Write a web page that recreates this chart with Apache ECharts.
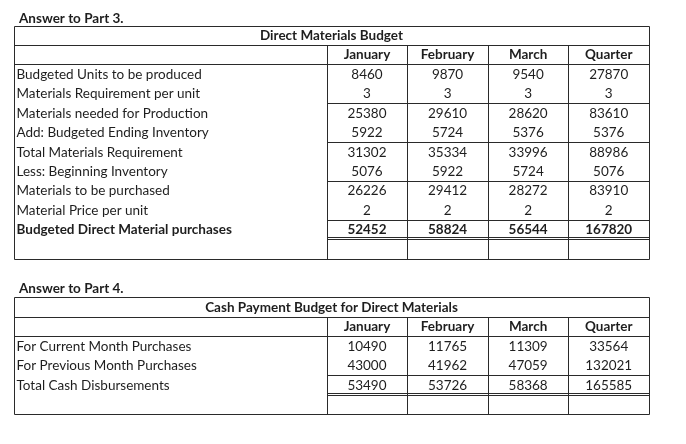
<!DOCTYPE html>
<html><head><meta charset="utf-8">
<script src="https://cdn.jsdelivr.net/npm/echarts@6/dist/echarts.min.js"></script>
<style>html,body{margin:0;padding:0;background:#fff}#c{width:686px;height:444px}</style>
</head><body><div id="c"></div>
<script>
// ---- data ----
const part3Heading = 'Answer to Part 3.';
const part4Heading = 'Answer to Part 4.';
const columns = ['January', 'February', 'March', 'Quarter'];

const budgetTitle = 'Direct Materials Budget';
const budgetRows = [
  'Budgeted Units to be produced',
  'Materials Requirement per unit',
  'Materials needed for Production',
  'Add: Budgeted Ending Inventory',
  'Total Materials Requirement',
  'Less: Beginning Inventory',
  'Materials to be purchased',
  'Material Price per unit',
  'Budgeted Direct Material purchases'
];
const budgetJan = [8460, 3, 25380, 5922, 31302, 5076, 26226, 2, 52452];
const budgetFeb = [9870, 3, 29610, 5724, 35334, 5922, 29412, 2, 58824];
const budgetMar = [9540, 3, 28620, 5376, 33996, 5724, 28272, 2, 56544];
const budgetQtr = [27870, 3, 83610, 5376, 88986, 5076, 83910, 2, 167820];
const budgetBoldRows = [8];
const budgetRuleAfter = [1, 3, 5, 7];   // single rules under these rows (value columns)
const budgetDoubleAfter = [8];          // double rule under this row

const cashTitle = 'Cash Payment Budget for Direct Materials';
const cashRows = [
  'For Current Month Purchases',
  'For Previous Month Purchases',
  'Total Cash Disbursements'
];
const cashJan = [10490, 43000, 53490];
const cashFeb = [11765, 41962, 53726];
const cashMar = [11309, 47059, 58368];
const cashQtr = [33564, 132021, 165585];
const cashBoldRows = [];
const cashRuleAfter = [1];
const cashDoubleAfter = [2];

// ---- build ----
const FONT = 'Lato, "Liberation Sans", sans-serif';
const FS = 13.5;
const TXT = '#1e1e1e';
const LINE = '#2a2a2a';
const LABEL_SPAN = 3.88; // label column width in value-column units

function buildTable(title, rows, cols, bold, ruleAfter, doubleAfter) {
  const nRows = rows.length + 3; // title, header, rows, empty row
  const cells = [];
  cells.push({x0: -LABEL_SPAN, x1: 4, y: 0, text: title, align: 'center', bold: true});
  columns.forEach((c, j) => cells.push({x0: j, x1: j + 1, y: 1, text: c, align: 'center', bold: true}));
  rows.forEach((r, i) => {
    const b = bold.indexOf(i) >= 0;
    cells.push({x0: -LABEL_SPAN, x1: 0, y: i + 2, text: r, align: 'left', bold: b});
    cols.forEach((arr, j) => cells.push({x0: j, x1: j + 1, y: i + 2, text: String(arr[i]), align: 'center', bold: b}));
  });
  const segs = [];
  segs.push({x0: -LABEL_SPAN, y0: 0, x1: 4, y1: 0});
  segs.push({x0: -LABEL_SPAN, y0: nRows, x1: 4, y1: nRows});
  segs.push({x0: -LABEL_SPAN, y0: 0, x1: -LABEL_SPAN, y1: nRows});
  segs.push({x0: 4, y0: 0, x1: 4, y1: nRows});
  segs.push({x0: -LABEL_SPAN, y0: 1, x1: 4, y1: 1});
  segs.push({x0: -LABEL_SPAN, y0: 2, x1: 4, y1: 2});
  for (let j = 0; j < 4; j++) segs.push({x0: j, y0: 1, x1: j, y1: nRows});
  ruleAfter.forEach(i => segs.push({x0: 0, y0: i + 3, x1: 4, y1: i + 3}));
  doubleAfter.forEach(i => segs.push({x0: 0, y0: i + 3, x1: 4, y1: i + 3, dbl: true}));
  return {cells, segs, nRows};
}

const t1 = buildTable(budgetTitle, budgetRows, [budgetJan, budgetFeb, budgetMar, budgetQtr], budgetBoldRows, budgetRuleAfter, budgetDoubleAfter);
const t2 = buildTable(cashTitle, cashRows, [cashJan, cashFeb, cashMar, cashQtr], cashBoldRows, cashRuleAfter, cashDoubleAfter);

function cellSeries(t, gi) {
  return {
    type: 'custom', xAxisIndex: gi, yAxisIndex: gi, silent: true, clip: false,
    data: t.cells.map(c => [c.x0, c.y, c.x1, c.y + 1]),
    renderItem: function (params, api) {
      const c = t.cells[params.dataIndex];
      const a = api.coord([c.x0, c.y]);
      const b = api.coord([c.x1, c.y + 1]);
      const cy = (a[1] + b[1]) / 2 + 0.5;
      const x = c.align === 'left' ? a[0] + 2.5 : (a[0] + b[0]) / 2;
      return {
        type: 'text',
        style: {
          text: c.text, x: x, y: cy, align: c.align, verticalAlign: 'middle',
          font: (c.bold ? 'bold ' : '') + FS + 'px ' + FONT, fill: TXT
        }
      };
    }
  };
}
function lineSeries(t, gi) {
  return {
    type: 'custom', xAxisIndex: gi, yAxisIndex: gi, silent: true, clip: false,
    data: t.segs.map(s => [s.x0, s.y0, s.x1, s.y1]),
    renderItem: function (params, api) {
      const s = t.segs[params.dataIndex];
      const a = api.coord([s.x0, s.y0]);
      const b = api.coord([s.x1, s.y1]);
      const r = v => Math.round(v) + 0.5;
      const st = {stroke: LINE, lineWidth: 1};
      if (s.dbl) {
        const y = Math.round(a[1]);
        return {type: 'group', children: [
          {type: 'line', shape: {x1: r(a[0]), y1: y - 1.5, x2: r(b[0]), y2: y - 1.5}, style: st},
          {type: 'line', shape: {x1: r(a[0]), y1: y + 0.5, x2: r(b[0]), y2: y + 0.5}, style: st}
        ]};
      }
      return {type: 'line', shape: {x1: r(a[0]), y1: r(a[1]), x2: r(b[0]), y2: r(b[1])}, style: st};
    }
  };
}

const chart = echarts.init(document.getElementById('c'), null, {renderer: 'canvas'});
chart.setOption({
  animation: false,
  backgroundColor: '#fff',
  title: [
    {text: part3Heading, left: 14, top: 7, textStyle: {fontFamily: FONT, fontSize: FS, fontWeight: 'bold', color: TXT}},
    {text: part4Heading, left: 14, top: 277, textStyle: {fontFamily: FONT, fontSize: FS, fontWeight: 'bold', color: TXT}}
  ],
  grid: [
    {left: 14, top: 25.5, width: 635, height: 233},
    {left: 14, top: 297, width: 635, height: 117}
  ],
  xAxis: [
    {type: 'value', gridIndex: 0, min: -LABEL_SPAN, max: 4, show: false},
    {type: 'value', gridIndex: 1, min: -LABEL_SPAN, max: 4, show: false}
  ],
  yAxis: [
    {type: 'value', gridIndex: 0, min: 0, max: t1.nRows, inverse: true, show: false},
    {type: 'value', gridIndex: 1, min: 0, max: t2.nRows, inverse: true, show: false}
  ],
  series: [lineSeries(t1, 0), cellSeries(t1, 0), lineSeries(t2, 1), cellSeries(t2, 1)]
});
</script>
</body></html>
